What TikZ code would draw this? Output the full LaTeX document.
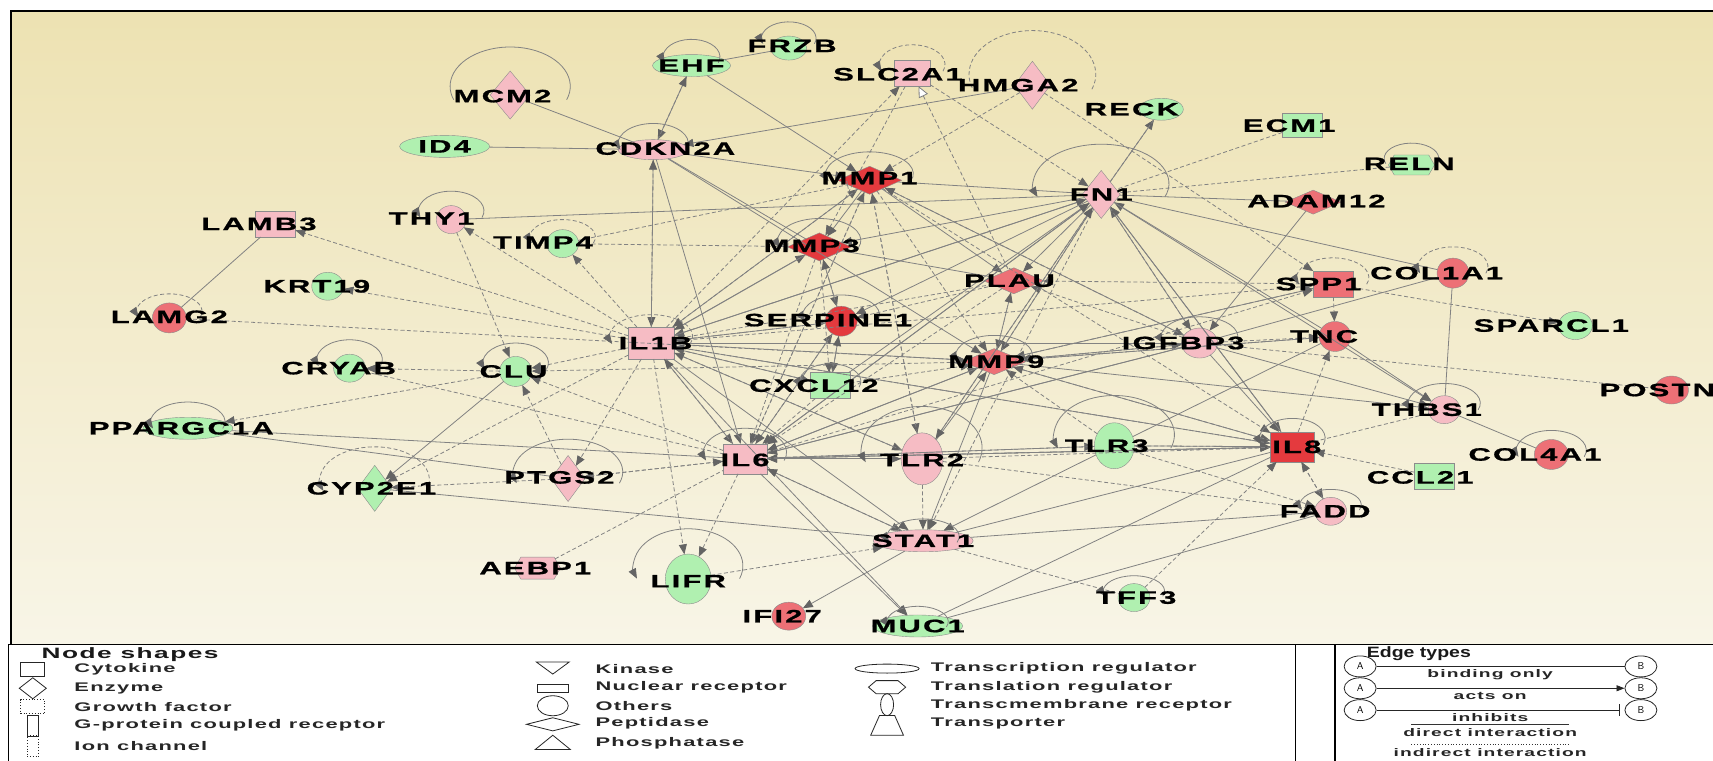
\documentclass[tikz,border=0pt]{standalone}
\usepackage{fontspec}
\setmainfont{Liberation Sans}
\newfontfamily\lblfont{Liberation Sans}[FakeStretch=1.72,LetterSpace=12,FakeBold=0.9]
\newfontfamily\legfont{Liberation Sans}[FakeStretch=1.75,LetterSpace=10]
\newfontfamily\etfont{Liberation Sans}[FakeStretch=1.3]
\usetikzlibrary{arrows.meta,shapes.geometric,shapes.symbols,calc}

\definecolor{pk}{RGB}{246,188,196}
\definecolor{md}{RGB}{237,112,118}
\definecolor{rd}{RGB}{228,58,62}
\definecolor{gr}{RGB}{176,240,176}
\definecolor{ln}{RGB}{130,130,130}
\definecolor{tipc}{RGB}{100,100,100}
\definecolor{bgtop}{RGB}{237,226,178}
\definecolor{bgbot}{RGB}{248,245,231}

% self loop: node, x radius, y radius, lift of the centre
\newcommand\sloop[5][]{\draw[lp,#1] ($(#2)+({#3*cos(20)},{-#5+#4*sin(20)})$) arc[start angle=20,end angle=-200,x radius=#3,y radius=#4];}

\begin{document}
\begin{tikzpicture}[x=1.0925pt,y=-1.0925pt,
  shp/.style={draw=black!45,line width=0.4pt,inner sep=0pt,outer sep=0pt},
  sq/.style 2 args={shp,rectangle,minimum width=#1pt,minimum height=#2pt},
  dm/.style 2 args={shp,diamond,minimum width=#1pt,minimum height=#2pt},
  el/.style 2 args={shp,ellipse,minimum width=#1pt,minimum height=#2pt},
  hx/.style 2 args={shp,signal,signal to=east and west,signal pointer angle=120,minimum width=#1pt,minimum height=#2pt},
  lbl/.style={font=\lblfont\bfseries\fontsize{18}{18}\selectfont,inner sep=0pt,text=black},
  tipa/.tip={Triangle[length=10pt,width=8pt,color=tipc]},
  dl/.style={draw=ln,line width=0.8pt},
  da/.style={dl,-tipa},
  il/.style={dl,dash pattern=on 4pt off 2.5pt},
  ia/.style={il,-tipa},
  lp/.style={dl,-tipa},
  lpn/.style={-},
  leg/.style={font=\legfont\bfseries\fontsize{12.5}{13}\selectfont,inner sep=0pt,anchor=west,text=black!85},
  legh/.style={font=\legfont\bfseries\fontsize{15}{15}\selectfont,inner sep=0pt,anchor=west,text=black!90},
  ets/.style={font=\legfont\bfseries\fontsize{11}{11}\selectfont,inner sep=0pt,text=black!85},
  eth/.style={font=\etfont\bfseries\fontsize{15}{15}\selectfont,inner sep=0pt,anchor=west,text=black!90},
  sym/.style={draw=black!85,line width=0.8pt,inner sep=0pt,outer sep=0pt},
  ab/.style={draw=black!85,line width=0.8pt,ellipse,minimum width=32pt,minimum height=21pt,inner sep=0pt,font=\sffamily\fontsize{10}{10}\selectfont}
]
\useasboundingbox (0,0) rectangle (1568,696);
\fill[white] (0,0) rectangle (1568,696);
% network panel
\shade[top color=bgtop,bottom color=bgbot] (10,10) rectangle (1585,590);
\draw[line width=1.3pt] (1585,10) -- (10,10) -- (10,590) -- (1585,590);

% ---------- molecules ----------
\node[dm={40}{48},fill=pk] (MCM2) at (467,87) {};
\node[el={78}{22},fill=gr] (EHF) at (633,60) {};
\node[el={36}{24},fill=gr] (FRZB) at (722,44) {};
\node[sq={36}{26},fill=pk] (SLC2A1) at (835,67) {};
\node[dm={36}{48},fill=pk] (HMGA2) at (945,78) {};
\node[el={44}{22},fill=gr] (RECK) at (1063,100) {};
\node[sq={40}{24},fill=gr] (ECM1) at (1192,115) {};
\node[hx={46}{20},fill=gr] (RELN) at (1292,151) {};
\node[el={90}{22},fill=gr] (ID4) at (407,134) {};
\node[el={70}{20},fill=pk] (CDKN2A) at (598,137) {};
\node[dm={64}{28},fill=rd] (MMP1) at (796,165) {};
\node[dm={38}{48},fill=pk] (FN1) at (1008,178) {};
\node[dm={56}{24},fill=md] (ADAM12) at (1202,185) {};
\node[sq={40}{26},fill=pk] (LAMB3) at (252,205) {};
\node[el={30}{28},fill=pk] (THY1) at (413,201) {};
\node[el={32}{28},fill=gr] (TIMP4) at (515,223) {};
\node[dm={64}{28},fill=rd] (MMP3) at (750,226) {};
\node[dm={60}{26},fill=md] (PLAU) at (928,257) {};
\node[sq={40}{26},fill=md] (SPP1) at (1220,260) {};
\node[el={32}{30},fill=md] (COL1A1) at (1330,250) {};
\node[el={32}{28},fill=gr] (KRT19) at (300,262) {};
\node[el={34}{30},fill=md] (LAMG2) at (155,291) {};
\node[el={32}{30},fill=rd] (SERPINE1) at (770,294) {};
\node[el={34}{28},fill=gr] (SPARCL1) at (1442,298) {};
\node[sq={46}{32},fill=pk] (IL1B) at (596,314) {};
\node[el={36}{30},fill=pk] (IGFBP3) at (1098,314) {};
\node[el={32}{30},fill=md] (TNC) at (1222,308) {};
\node[el={32}{28},fill=gr] (CRYAB) at (320,337) {};
\node[el={32}{30},fill=gr] (CLU) at (472,340) {};
\node[dm={64}{26},fill=md] (MMP9) at (910,331) {};
\node[sq={40}{26},fill=gr] (CXCL12) at (760,353) {};
\node[el={34}{28},fill=md] (POSTN) at (1530,357) {};
\node[el={90}{22},fill=gr] (PPARGC1A) at (172,392) {};
\node[el={32}{28},fill=pk] (THBS1) at (1322,375) {};
\node[el={40}{46},fill=gr] (TLR3) at (1020,408) {};
\node[sq={44}{30},fill=rd] (IL8) at (1183,409) {};
\node[el={34}{30},fill=md] (COL4A1) at (1420,416) {};
\node[el={42}{52},fill=pk] (TLR2) at (844,420) {};
\node[sq={44}{30},fill=pk] (IL6) at (682,420) {};
\node[dm={34}{46},fill=pk] (PTGS2) at (520,438) {};
\node[dm={34}{46},fill=gr] (CYP2E1) at (343,447) {};
\node[sq={40}{26},fill=gr] (CCL21) at (1313,436) {};
\node[el={32}{28},fill=pk] (FADD) at (1218,468) {};
\node[el={100}{22},fill=pk] (STAT1) at (845,495) {};
\node[hx={46}{22},fill=pk] (AEBP1) at (492,520) {};
\node[el={46}{50},fill=gr] (LIFR) at (630,530) {};
\node[el={32}{28},fill=gr] (TFF3) at (1038,547) {};
\node[el={34}{28},fill=md] (IFI27) at (722,564) {};
\node[el={90}{22},fill=gr] (MUC1) at (840,573) {};

% ---------- direct, binding only ----------
\foreach \a/\b in {MCM2/CDKN2A,ID4/CDKN2A,FRZB/EHF,LAMB3/LAMG2,THY1/FN1,ADAM12/FN1,
  COL1A1/FN1,COL1A1/IGFBP3,COL1A1/THBS1,THBS1/COL4A1,CYP2E1/STAT1,PPARGC1A/PTGS2,
  PPARGC1A/IL6,MMP3/PLAU,MMP1/FN1,MUC1/FADD,MUC1/IL8,CDKN2A/MMP3,IL1B/IGFBP3,
  IL6/IGFBP3,TLR3/TNC,STAT1/IL8}
  \draw[dl] (\a) -- (\b);

% ---------- direct, acts on ----------
\foreach \a/\b in {EHF/CDKN2A,EHF/MMP1,HMGA2/CDKN2A,CDKN2A/IL1B,CDKN2A/MMP1,CDKN2A/IL6,
  CDKN2A/MMP9,CLU/CYP2E1,TNC/FN1,ADAM12/IGFBP3,IL6/MUC1,IL1B/MUC1,STAT1/IFI27,
  IL1B/STAT1,IL6/STAT1,MMP9/STAT1,TLR3/STAT1,IL1B/IL6,IL1B/MMP1,IL1B/MMP3,IL1B/MMP9,
  IL1B/IL8,IL6/IL8,IL6/MMP9,FN1/MMP9,FN1/IL8,FN1/IL1B,FN1/IL6,FN1/PLAU,IGFBP3/THBS1,
  TNC/THBS1,FN1/THBS1,MMP9/THBS1,FN1/RECK,STAT1/FADD,TLR2/MMP9,TLR2/IL6,MMP1/MMP3,
  MMP3/SERPINE1,SERPINE1/CXCL12,MMP1/PLAU,MMP1/IGFBP3,IL6/TLR2,IL6/TLR3,IL8/TLR3,
  MMP9/IL8,IGFBP3/IL8,IGFBP3/FN1,IGFBP3/MMP9,IL1B/FN1,IL6/FN1,CXCL12/FN1,TLR2/FN1,
  IL8/FN1,FN1/SERPINE1,FN1/MMP3,MMP3/IL1B,IL1B/SERPINE1,IL6/SERPINE1,IL1B/CXCL12,
  IL8/IL6,MMP9/IL6,TNC/MMP9,SPP1/MMP9,IGFBP3/IL6,IL1B/TLR2}
  \draw[da] (\a) -- (\b);

% ---------- indirect, acts on ----------
\foreach \a/\b in {CDKN2A/EHF,HMGA2/MMP1,SLC2A1/FN1,SLC2A1/MMP3,IL1B/SLC2A1,IL1B/LAMB3,
  IL1B/THY1,THY1/CLU,IL1B/TIMP4,IL1B/KRT19,LAMG2/MMP9,CLU/CRYAB,CLU/PPARGC1A,
  IL1B/CYP2E1,PTGS2/CYP2E1,PTGS2/CLU,IL1B/PTGS2,IL6/PTGS2,PTGS2/IL6,IL1B/CLU,IL6/CLU,
  MMP9/CLU,IL1B/LIFR,IL6/LIFR,LIFR/STAT1,TLR2/STAT1,MMP1/TLR2,MMP1/MMP9,MMP1/IL6,
  MMP1/IL1B,MMP1/IL8,MMP3/CXCL12,MMP3/IL6,SERPINE1/IL6,CXCL12/IL6,CXCL12/IL1B,
  CXCL12/MMP9,TLR2/IL8,TLR3/IL8,IL8/MMP9,IL8/FADD,FADD/IL8,CCL21/IL8,TFF3/IL8,IL8/TNC,
  SPP1/PLAU,SPP1/SPARCL1,SPP1/TNC,HMGA2/SPP1,MMP9/SPP1,IL1B/SPP1,IL6/SPP1,FN1/IGFBP3,
  MMP9/IGFBP3,IGFBP3/MMP1,IGFBP3/PLAU,PLAU/MMP9,MMP9/PLAU,PLAU/IL1B,PLAU/IL6,
  PLAU/SERPINE1,SERPINE1/MMP3,SERPINE1/IL1B,CXCL12/SERPINE1,TLR2/FADD,TLR3/FADD,
  IL1B/CDKN2A,TLR3/MMP9,MMP9/TNC,IGFBP3/TNC,TLR2/IL1B,IL8/IL1B,IL6/IL1B,STAT1/IL6,
  TLR2/MMP1,IL6/MMP1,FN1/TLR2,FN1/STAT1,MMP9/FN1}
  \draw[ia] (\a) -- (\b);

% ---------- indirect, binding only ----------
\foreach \a/\b in {AEBP1/IL6,CRYAB/IL6,ECM1/FN1,RELN/FN1,IGFBP3/POSTN,IL8/THBS1,
  STAT1/TFF3,FN1/RECK,IL6/TLR3,IL6/IL8}
  \draw[il] (\a) -- (\b);

% special ends
\draw[il,{Triangle[length=11pt,width=10pt,fill=white,color=black!50]}-] (SLC2A1) -- (PLAU);
\draw[il,-{Bar[width=8pt]}] (TIMP4) -- (MMP1);
\draw[il,-{Bar[width=8pt]}] (TIMP4) -- (MMP3);

% ---------- self loops ----------
\sloop{EHF}{26}{16}{8}
\sloop{FRZB}{25}{15}{9}
\sloop[lpn]{MCM2}{55}{36}{8}
\sloop{CDKN2A}{32}{18}{6}
\sloop{MMP1}{40}{20}{6}
\sloop{MMP3}{38}{20}{6}
\sloop{SERPINE1}{35}{18}{6}
\sloop{THY1}{30}{18}{8}
\sloop{CRYAB}{30}{18}{8}
\sloop{CLU}{30}{18}{8}
\sloop{PPARGC1A}{34}{18}{6}
\sloop{IL6}{38}{22}{6}
\sloop{TLR2}{55}{38}{10}
\sloop{TLR3}{55}{36}{10}
\sloop{PTGS2}{50}{30}{6}
\sloop{LIFR}{50}{34}{12}
\sloop{STAT1}{33}{16}{4}
\sloop{MUC1}{28}{14}{4}
\sloop{TFF3}{28}{14}{6}
\sloop{FADD}{28}{14}{6}
\sloop{IL8}{30}{18}{8}
\sloop{THBS1}{33}{18}{6}
\sloop{COL4A1}{32}{18}{4}
\sloop{IGFBP3}{35}{18}{6}
\sloop{FN1}{62}{36}{10}
\sloop[lpn]{RELN}{25}{14}{6}
\sloop{MMP9}{35}{18}{6}
\sloop{CXCL12}{28}{16}{4}
\sloop[il]{SLC2A1}{30}{18}{8}
\sloop[il,lpn]{HMGA2}{58}{40}{10}
\sloop[il]{TIMP4}{30}{16}{6}
\sloop[il]{LAMG2}{30}{16}{6}
\sloop[il]{CYP2E1}{50}{30}{8}
\sloop[il]{IL1B}{38}{20}{6}
\sloop[il]{SPP1}{33}{18}{6}
\sloop[il]{COL1A1}{32}{18}{6}

% ---------- labels ----------
\foreach \n/\x/\y in {MCM2/460/88,EHF/633/60,FRZB/725/42,SLC2A1/822/68,HMGA2/932/78,
  RECK/1036/100,ECM1/1180/115,RELN/1290/150,ID4/407/134,CDKN2A/609/136,MMP1/796/163,
  FN1/1008/178,ADAM12/1205/184,LAMB3/237/205,THY1/395/200,TIMP4/497/222,MMP3/743/225,
  PLAU/924/257,SPP1/1207/260,COL1A1/1315/250,KRT19/290/262,LAMG2/155/290,
  SERPINE1/758/293,SPARCL1/1420/298,IL1B/600/314,IGFBP3/1083/314,TNC/1212/308,
  CRYAB/310/337,CLU/470/340,MMP9/912/331,CXCL12/745/353,POSTN/1517/357,
  PPARGC1A/166/392,THBS1/1306/375,TLR3/1013/408,IL8/1187/409,COL4A1/1405/416,
  TLR2/844/421,IL6/682/421,PTGS2/512/437,CYP2E1/340/447,CCL21/1300/437,FADD/1213/468,
  STAT1/845/495,AEBP1/490/520,LIFR/630/532,TFF3/1040/547,IFI27/716/564,MUC1/840/573}
  \node[lbl] (l\n) at (\x,\y) {\n};

% ---------- legend: node shapes ----------
\draw[line width=1.2pt] (8,700) -- (8,590) -- (1186,590) -- (1186,700);
\node[legh] (hNS) at (38,599) {Node shapes};
\node[sym,rectangle,minimum width=24pt,minimum height=14pt] (sCyt) at (30,613) {};
\node[leg] (tCyt) at (68,613) {Cytokine};
\node[sym,diamond,minimum width=27pt,minimum height=21pt] (sEnz) at (30,630) {};
\node[leg] (tEnz) at (68,630) {Enzyme};
\node[sym,rectangle,dotted,minimum width=24pt,minimum height=14pt] (sGro) at (30,647) {};
\node[leg] (tGro) at (68,647) {Growth factor};
\node[sym,rectangle,minimum width=11pt,minimum height=21pt] (sGpc) at (30,664) {};
\node[leg] (tGpc) at (68,664) {G-protein coupled receptor};
\node[sym,rectangle,dotted,minimum width=11pt,minimum height=21pt] (sIon) at (30,683) {};
\node[leg] (tIon) at (68,683) {Ion channel};

\draw[sym] (491,606) -- (521,606) -- (506,617) -- cycle;
\node[leg] (tKin) at (545,612) {Kinase};
\node[sym,rectangle,minimum width=31pt,minimum height=8pt] (sNuc) at (506,630) {};
\node[leg] (tNuc) at (545,629) {Nuclear receptor};
\node[sym,ellipse,minimum width=31pt,minimum height=20pt] (sOth) at (506,646) {};
\node[leg] (tOth) at (545,646) {Others};
\draw[sym] (482,663) -- (506,657) -- (530,663) -- (506,669) -- cycle;
\node[leg] (tPep) at (545,662) {Peptidase};
\draw[sym] (490,686) -- (506,673) -- (522,686) -- cycle;
\node[leg] (tPho) at (545,680) {Phosphatase};

\node[sym,ellipse,minimum width=64pt,minimum height=9pt] (sTrc) at (812,612) {};
\node[leg] (tTrc) at (852,612) {Transcription regulator};
\draw[sym] (795,629) -- (802,623) -- (822,623) -- (829,629) -- (822,635) -- (802,635) -- cycle;
\node[leg] (tTrl) at (852,629) {Translation regulator};
\node[sym,ellipse,minimum width=13pt,minimum height=22pt] (sTmr) at (812,645) {};
\node[leg] (tTmr) at (852,646) {Transcmembrane receptor};
\draw[sym] (805,655) -- (819,655) -- (827,673) -- (797,673) -- cycle;
\node[leg] (tTrp) at (852,662) {Transporter};

% ---------- legend: edge types ----------
\draw[line width=1.2pt] (1222,700) -- (1222,590) -- (1585,590);
\node[eth] (hET) at (1251,598) {Edge types};
\node[ab] (a1) at (1245,610) {A};
\node[ab] (b1) at (1502,610) {B};
\draw[black!85,line width=0.8pt] (a1) -- (b1);
\node[ets] (e1) at (1364,618) {binding only};
\node[ab] (a2) at (1245,630) {A};
\node[ab] (b2) at (1502,630) {B};
\draw[black!85,line width=0.8pt,-{Triangle[length=8pt,width=6pt]}] (a2) -- (b2);
\node[ets] (e2) at (1364,637) {acts on};
\node[ab] (a3) at (1245,650) {A};
\node[ab] (b3) at (1502,650) {B};
\draw[black!85,line width=0.8pt,-{Bar[width=12pt]}] (a3) -- ([xshift=-5pt]b3.west);
\node[ets] (e3) at (1364,657) {inhibits};
\coordinate (d1) at (1292,663);
\coordinate (d2) at (1436,663);
\draw[black!80,line width=0.8pt] (d1) -- (d2);
\node[ets] (e4) at (1364,671) {direct interaction};
\coordinate (d3) at (1292,681);
\coordinate (d4) at (1436,681);
\draw[black!80,line width=0.8pt,dotted] (d3) -- (d4);
\node[ets] (e5) at (1364,689) {indirect interaction};
\end{tikzpicture}
\end{document}
